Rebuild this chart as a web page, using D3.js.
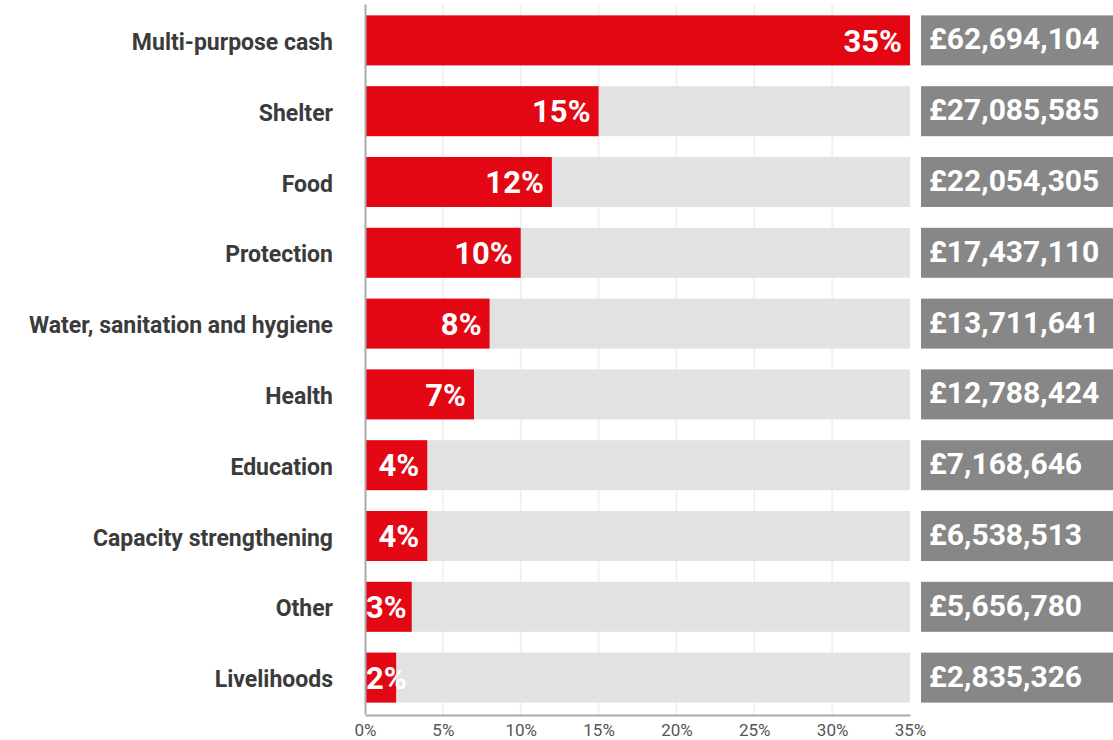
<!DOCTYPE html>
<html>
<head>
<meta charset="utf-8">
<script src="https://cdn.jsdelivr.net/npm/d3@7"></script>
<style>
  html, body { margin: 0; padding: 0; background: #fff; }
  svg { display: block; }
  .cat text { font-family: Roboto, "Liberation Sans", sans-serif; font-weight: 700; font-size: 23px; fill: #3b3b3b; }
  .xaxis text { font-family: Roboto, "Liberation Sans", sans-serif; font-weight: 400; font-size: 17px; fill: #555; }
  .pct { font-family: Roboto, "Liberation Sans", sans-serif; font-weight: 700; font-size: 31px; fill: #fff; }
  .amt { font-family: Roboto, "Liberation Sans", sans-serif; font-weight: 700; font-size: 30px; fill: #fff; }
</style>
</head>
<body>
<svg id="chart" width="1113" height="740"></svg>
<script>
// Funding by sector: share of total and amount in pounds
const sectors = [
  "Multi-purpose cash",
  "Shelter",
  "Food",
  "Protection",
  "Water, sanitation and hygiene",
  "Health",
  "Education",
  "Capacity strengthening",
  "Other",
  "Livelihoods"
];
const shares = [35, 15, 12, 10, 8, 7, 4, 4, 3, 2];
const amounts = [62694104, 27085585, 22054305, 17437110, 13711641, 12788424, 7168646, 6538513, 5656780, 2835326];
const xTicks = [0, 5, 10, 15, 20, 25, 30, 35];

const rows = sectors.map((s, i) => ({ sector: s, share: shares[i], amount: amounts[i] }));

const svg = d3.select("#chart");
const x0 = 365, x1 = 910;
const axisY = 715;

const x = d3.scaleLinear().domain([0, 35]).range([x0, x1]);
const y = d3.scaleBand()
  .domain(sectors)
  .range([4, 714])
  .paddingInner(0.294)
  .paddingOuter(0.161);

// faint vertical gridlines behind the bars
svg.append("g")
  .selectAll("line")
  .data(xTicks.slice(1, -1))
  .join("line")
  .attr("x1", d => x(d)).attr("x2", d => x(d))
  .attr("y1", 4).attr("y2", axisY)
  .attr("stroke", "#f1f1f1")
  .attr("stroke-width", 2);

// full-width track
svg.append("g")
  .selectAll("rect")
  .data(rows)
  .join("rect")
  .attr("x", x(0))
  .attr("y", d => y(d.sector))
  .attr("width", x(35) - x(0))
  .attr("height", y.bandwidth())
  .attr("fill", "#e2e2e2");

// share bars
svg.append("g")
  .selectAll("rect")
  .data(rows)
  .join("rect")
  .attr("x", x(0))
  .attr("y", d => y(d.sector))
  .attr("width", d => x(d.share) - x(0))
  .attr("height", y.bandwidth())
  .attr("fill", "#e30613");

// share labels, right-aligned inside the bar end
const pct = svg.append("g")
  .selectAll("text")
  .data(rows)
  .join("text")
  .attr("class", "pct")
  .attr("y", d => y(d.sector) + y.bandwidth() / 2)
  .attr("dy", "0.36em")
  .text(d => d.share + "%");
pct.each(function (d) {
  const w = this.getComputedTextLength();
  const right = x(d.share) - 8;
  const left = Math.max(x(0) + 1, right - w);
  d3.select(this).attr("x", left);
});

// amount boxes on the right
const amtG = svg.append("g");
amtG.selectAll("rect")
  .data(rows)
  .join("rect")
  .attr("x", 921)
  .attr("y", d => y(d.sector))
  .attr("width", 200)
  .attr("height", y.bandwidth())
  .attr("fill", "#878787");
amtG.selectAll("text")
  .data(rows)
  .join("text")
  .attr("class", "amt")
  .attr("x", 929)
  .attr("y", d => y(d.sector) + y.bandwidth() / 2)
  .attr("dy", "0.3em")
  .text(d => "£" + d3.format(",")(d.amount));

// category axis
const yAxis = svg.append("g")
  .attr("class", "cat")
  .attr("transform", `translate(${x0},0)`)
  .call(d3.axisLeft(y).tickSize(0).tickPadding(32));
yAxis.selectAll(".tick text").attr("dy", "0.42em");
yAxis.select(".domain").attr("stroke", "#aaa").attr("stroke-width", 2);

// percentage axis
const xAxis = svg.append("g")
  .attr("class", "xaxis")
  .attr("transform", `translate(0,${axisY})`)
  .call(d3.axisBottom(x).tickValues(xTicks).tickFormat(d => d + "%").tickSize(0).tickPadding(9));
xAxis.select(".domain").attr("stroke", "#aaa").attr("stroke-width", 2);
</script>
</body>
</html>
